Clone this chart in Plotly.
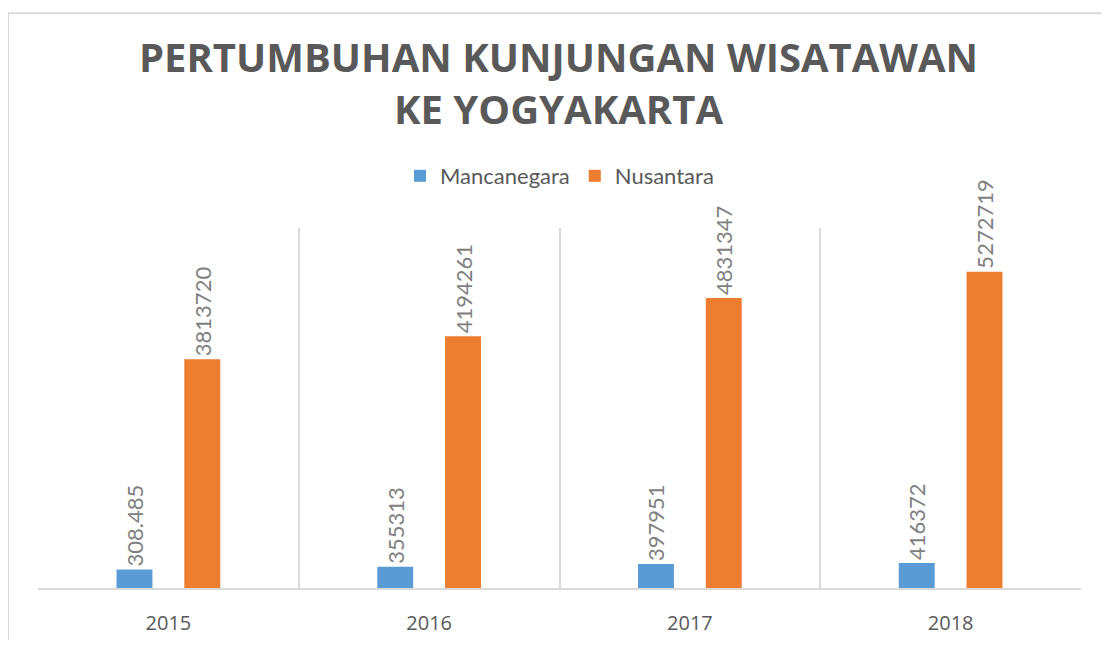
import plotly.graph_objects as go

years = ["2015", "2016", "2017", "2018"]
mancanegara = [308485, 355313, 397951, 416372]
mancanegara_labels = ["308.485", "355313", "397951", "416372"]
nusantara = [3813720, 4194261, 4831347, 5272719]
nusantara_labels = ["3813720", "4194261", "4831347", "5272719"]

FONT = "Lato"
TITLE_FONT = "Open Sans"
GRAY = "#595959"
LABEL_GRAY = "#7F7F7F"
BORDER = "#D9D9D9"

W, H = 1101, 640
ML, MR, MT, MB = 30, 28, 220, 53
PW = W - ML - MR
PH = H - MT - MB

fig = go.Figure()
for name, vals, labels, color in [
    ("Mancanegara", mancanegara, mancanegara_labels, "#5B9BD5"),
    ("Nusantara", nusantara, nusantara_labels, "#ED7D31"),
]:
    fig.add_trace(go.Bar(
        x=years, y=vals, name=name,
        marker=dict(color=color, line=dict(width=0)),
        text=labels, textposition="outside", textangle=-90,
        constraintext="none",
        textfont=dict(family=FONT, size=22, color=LABEL_GRAY),
        cliponaxis=False,
    ))

# chart frame (left and top edges of the figure)
fig.add_shape(type="line", xref="paper", yref="paper",
              x0=-ML / PW, x1=-ML / PW, y0=-MB / PH, y1=1 + (MT - 1) / PH,
              line=dict(color=BORDER, width=2))
fig.add_shape(type="line", xref="paper", yref="paper",
              x0=-ML / PW, x1=1 + MR / PW, y0=1 + (MT - 1) / PH, y1=1 + (MT - 1) / PH,
              line=dict(color=BORDER, width=2))

fig.update_layout(
    width=W, height=H,
    paper_bgcolor="white", plot_bgcolor="white",
    margin=dict(l=ML, r=MR, t=MT, b=MB),
    barmode="group", bargap=0.48, bargroupgap=0.47,
    title=dict(
        text="<b>PERTUMBUHAN KUNJUNGAN WISATAWAN<br>KE YOGYAKARTA</b>",
        x=0.5, xanchor="center", yref="container", y=0.9, yanchor="middle",
        font=dict(family=TITLE_FONT, size=40, color=GRAY),
    ),
    legend=dict(
        orientation="h", x=0.5, xanchor="center", y=1 + 53 / PH, yanchor="middle",
        font=dict(family=FONT, size=22, color=GRAY),
        itemwidth=30,
    ),
    showlegend=True,
)
fig.update_xaxes(
    type="category", tickson="boundaries", showgrid=True,
    gridcolor=BORDER, gridwidth=2,
    showline=True, linecolor=BORDER, linewidth=2,
    ticks="", ticklabelstandoff=16,
    tickfont=dict(family="Open Sans", size=20, color=GRAY),
)
fig.update_yaxes(
    range=[0, 6000000], showgrid=False, showticklabels=False,
    zeroline=False, showline=False,
)

fig.write_html("out.html")
